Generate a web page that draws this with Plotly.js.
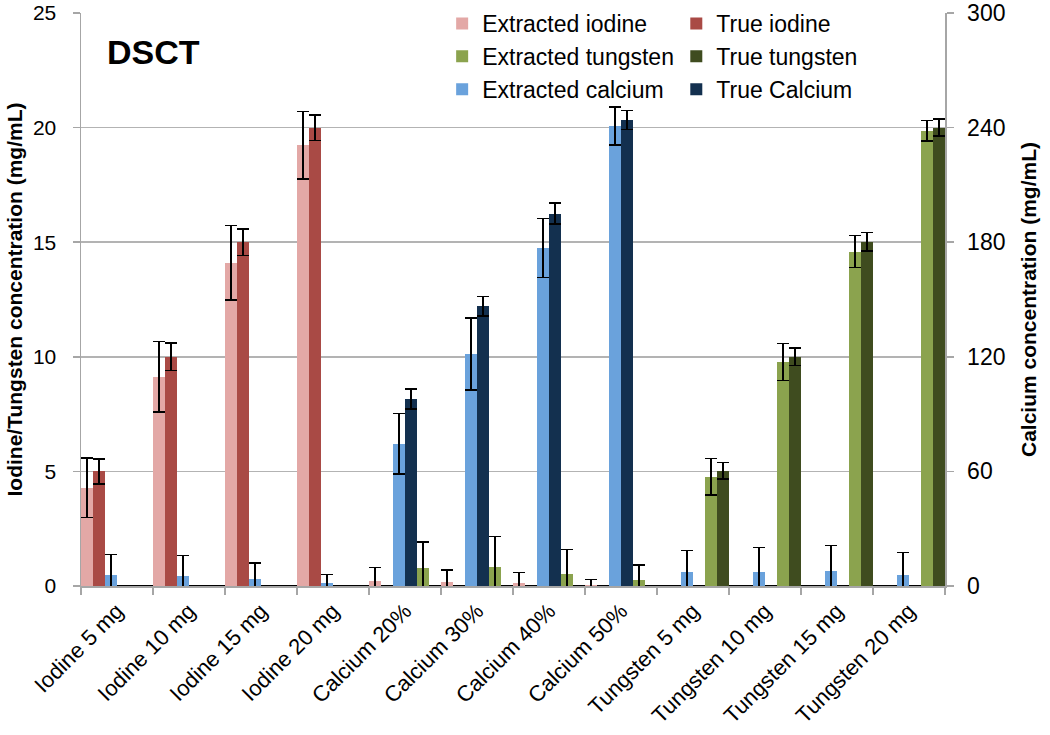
<!DOCTYPE html>
<html>
<head>
<meta charset="utf-8">
<script src="https://cdn.plot.ly/plotly-3.0.1.min.js"></script>
<style>html,body{margin:0;padding:0;background:#fff;}#chart{width:1050px;height:735px;}</style>
</head>
<body>
<div id="chart"></div>
<script>
const categories = ["Iodine 5 mg","Iodine 10 mg","Iodine 15 mg","Iodine 20 mg","Calcium 20%","Calcium 30%","Calcium 40%","Calcium 50%","Tungsten 5 mg","Tungsten 10 mg","Tungsten 15 mg","Tungsten 20 mg"];

// Iodine / tungsten in mg/mL (left axis)
const extIodine      = [4.28, 9.13, 14.1, 19.23, 0.22, 0.17, 0.13, 0.05, 0, 0, 0, 0];
const extIodineErr   = [1.3, 1.53, 1.63, 1.47, 0.59, 0.53, 0.46, 0.24, null, null, null, null];
const trueIodine     = [5, 10, 15, 20, 0, 0, 0, 0, 0, 0, 0, 0];
const trueIodineErr  = [0.55, 0.6, 0.57, 0.56, null, null, null, null, null, null, null, null];
const extTungsten    = [0, 0, 0, 0, 0.79, 0.83, 0.53, 0.26, 4.76, 9.77, 14.59, 19.87];
const extTungstenErr = [null, null, null, null, 1.14, 1.33, 1.07, 0.65, 0.8, 0.81, 0.7, 0.45];
const trueTungsten   = [0, 0, 0, 0, 0, 0, 0, 0, 5.02, 10, 15.02, 20];
const trueTungstenErr= [null, null, null, null, null, null, null, null, 0.36, 0.38, 0.4, 0.37];

// Calcium in mg/mL (right axis)
const extCalcium     = [5.9, 5.2, 3.8, 1.7, 74.4, 121.5, 177, 240.8, 7.4, 7.4, 7.9, 5.9];
const extCalciumErr  = [10.7, 10.9, 8.2, 4.3, 15.8, 18.8, 15.4, 10, 11.1, 12.8, 13.2, 11.6];
const trueCalcium    = [0, 0, 0, 0, 98, 146.5, 195, 244, 0, 0, 0, 0];
const trueCalciumErr = [null, null, null, null, 5.2, 5.2, 5.4, 5, null, null, null, null];

const leftTicks = [0, 5, 10, 15, 20, 25];
const rightTicks = [0, 60, 120, 180, 240, 300];

const FONT = '"Liberation Sans", Arial, Helvetica, sans-serif';

function err(arr){
  return {type:'data', array:arr, symmetric:true, visible:true, color:'#000', thickness:1.5, width:6};
}
function bar(name, y, e, color, group, rank, axis, leg){
  return {type:'bar', name:name, x:categories, y:y, error_y:err(e), marker:{color:color, line:{width:0}},
          offsetgroup:group, legendrank:rank, yaxis:axis, legend:leg, hoverinfo:'skip'};
}

const data = [
  bar('Extracted iodine', extIodine, extIodineErr, '#E3A8A6', '1', 1, 'y', 'legend'),
  bar('True iodine', trueIodine, trueIodineErr, '#A94A45', '2', 1, 'y', 'legend2'),
  bar('Extracted calcium', extCalcium, extCalciumErr, '#6AA2DC', '3', 3, 'y2', 'legend'),
  bar('True Calcium', trueCalcium, trueCalciumErr, '#13304F', '4', 3, 'y2', 'legend2'),
  bar('Extracted tungsten', extTungsten, extTungstenErr, '#8BA34E', '5', 2, 'y', 'legend'),
  bar('True tungsten', trueTungsten, trueTungstenErr, '#3F4C1F', '6', 2, 'y', 'legend2')
];

const legendBase = {orientation:'v', xanchor:'left', y:1.0192, yanchor:'top', traceorder:'normal',
  font:{family:FONT, size:23, color:'#000'}, bgcolor:'rgba(0,0,0,0)', tracegroupgap:0, itemclick:false};

const layout = {
  width:1050, height:735,
  margin:{l:81, r:105, t:13, b:149, autoexpand:false},
  paper_bgcolor:'#fff', plot_bgcolor:'#fff',
  font:{family:FONT, color:'#000', size:21},
  barmode:'group', bargap:0, bargroupgap:0,
  showlegend:true,
  legend:Object.assign({}, legendBase, {x:0.418}),
  legend2:Object.assign({}, legendBase, {x:0.689}),
  xaxis:{type:'category', tickangle:-45, tickson:'boundaries', ticks:'outside', ticklen:7, tickcolor:'#A6A6A6', tickwidth:1.5,
         showline:true, linecolor:'#A6A6A6', linewidth:1.5, showgrid:false, tickfont:{size:22}, ticklabelstandoff:2, automargin:false},
  yaxis:{range:[0,25], tickvals:leftTicks, ticktext:leftTicks.map(String), ticks:'outside', ticklen:7, tickcolor:'#A6A6A6', tickwidth:1.5,
         showline:true, linecolor:'#A6A6A6', linewidth:1.5, showgrid:true, gridcolor:'#B3B3B3', gridwidth:1.5, zeroline:false,
         tickfont:{size:21}, ticklabelstandoff:12, ticklabeloverflow:'allow', automargin:false,
         title:{text:'Iodine/Tungsten concentration (mg/mL)', font:{size:21, family:FONT, weight:'bold'}, standoff:4}},
  yaxis2:{range:[0,300], tickvals:rightTicks, ticktext:rightTicks.map(String), overlaying:'y', side:'right', ticks:'outside', ticklen:7,
          tickcolor:'#A6A6A6', tickwidth:1.5, showline:true, linecolor:'#A6A6A6', linewidth:1.5, showgrid:false, zeroline:false,
          tickfont:{size:23}, ticklabelstandoff:9, ticklabeloverflow:'allow', automargin:false,
          title:{text:'Calcium concentration (mg/mL)', font:{size:21, family:FONT, weight:'bold'}, standoff:17}},
  annotations:[{text:'<b>DSCT</b>', xref:'paper', yref:'paper', x:0.028, y:0.932, xanchor:'left', yanchor:'middle',
                showarrow:false, font:{size:34, family:FONT, color:'#000'}}]
};

Plotly.newPlot('chart', data, layout, {staticPlot:true, displayModeBar:false});
</script>
</body>
</html>
